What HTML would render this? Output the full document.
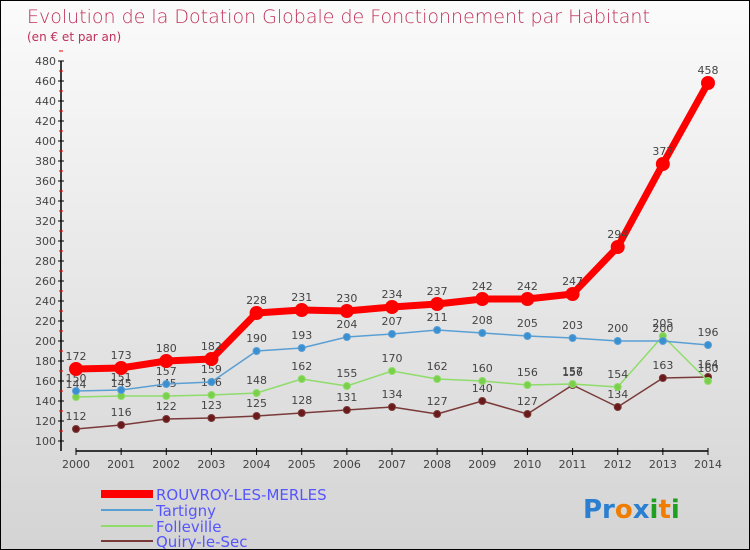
<!DOCTYPE html>
<html><head><meta charset="utf-8"><style>
body{margin:0}
#c{width:750px;height:550px;position:relative;box-sizing:border-box;border:1px solid #000;background:linear-gradient(#fbfbfb,#d4d4d4);font-family:"DejaVu Sans","Liberation Sans",sans-serif;overflow:hidden}
</style></head><body>
<div id="c">
<svg id="s" width="750" height="550" style="position:absolute;left:0;top:0">
<text x="26" y="22" font-size="19" fill="#c0305a" font-family="DejaVu Sans,sans-serif" font-weight="200">Evolution de la Dotation Globale de Fonctionnement par Habitant</text>
<text x="26" y="40" font-size="12" fill="#c0305a">(en € et par an)</text>
<g id="axes"></g><g id="series"></g>
<g>
<line x1="100" y1="493" x2="152" y2="493" stroke="#f00" stroke-width="8"/>
<text x="155" y="499" font-size="15" fill="#5555ff">ROUVROY-LES-MERLES</text>
<line x1="100" y1="509" x2="152" y2="509" stroke="#5a9fd4" stroke-width="2"/>
<text x="155" y="515" font-size="15" fill="#5555ff">Tartigny</text>
<line x1="100" y1="525" x2="152" y2="525" stroke="#8fdc6a" stroke-width="2"/>
<text x="155" y="531" font-size="15" fill="#5555ff">Folleville</text>
<line x1="100" y1="540" x2="152" y2="540" stroke="#7a3a3a" stroke-width="2"/>
<text x="155" y="546" font-size="15" fill="#5555ff">Quiry-le-Sec</text>
</g>
<text x="582" y="517" font-size="26" font-weight="bold"><tspan fill="#2a7fd0">Pr</tspan><tspan fill="#f07d00">o</tspan><tspan fill="#2a7fd0">x</tspan><tspan fill="#20a020">i</tspan><tspan fill="#f07d00">t</tspan><tspan fill="#20a020">i</tspan></text>
</svg>
</div>
<script>
const years=[2000,2001,2002,2003,2004,2005,2006,2007,2008,2009,2010,2011,2012,2013,2014];
const rouvroy=[172,173,180,182,228,231,230,234,237,242,242,247,294,377,458];
const tartigny=[150,151,157,159,190,193,204,207,211,208,205,203,200,200,196];
const folleville=[144,145,145,146,148,162,155,170,162,160,156,157,154,205,160];
const quiry=[112,116,122,123,125,128,131,134,127,140,127,156,134,163,164];
const yTicks=[100,120,140,160,180,200,220,240,260,280,300,320,340,360,380,400,420,440,460,480];
const NS="http://www.w3.org/2000/svg";
const X=i=>75+i*(707-75)/14, Y=v=>440-(v-100)*(380/380);
function mk(t,a,p){const e=document.createElementNS(NS,t);for(const k in a)e.setAttribute(k,a[k]);p.appendChild(e);return e;}
const ax=document.getElementById('axes');
let l=mk('line',{x1:60,y1:60,x2:60,y2:450,stroke:'#000','stroke-width':1.5},ax);

l=mk('line',{x1:75,y1:450,x2:707,y2:450,stroke:'#000','stroke-width':1.5},ax);

yTicks.forEach(v=>{mk('line',{x1:57,y1:Y(v),x2:63,y2:Y(v),stroke:'#000'},ax);
 mk('line',{x1:58,y1:Y(v)-10,x2:62,y2:Y(v)-10,stroke:'#f00'},ax);
 const t=mk('text',{x:55,y:Y(v)+4,'font-size':11,fill:'#444','text-anchor':'end'},ax);t.textContent=v;
 });
years.forEach((y,i)=>{mk('line',{x1:X(i),y1:447,x2:X(i),y2:454,stroke:'#000'},ax);
 const t=mk('text',{x:X(i),y:467,'font-size':11,fill:'#444','text-anchor':'middle'},ax);t.textContent=y;
 });
const sg=document.getElementById('series');
function draw(d,col,w,r,name,dot){const g=mk('g',{},sg);
 mk('polyline',{points:d.map((v,i)=>X(i)+','+Y(v)).join(' '),fill:'none',stroke:col,'stroke-width':w,'stroke-linejoin':'round'},g);
 d.forEach((v,i)=>{const c=mk('circle',{cx:X(i),cy:Y(v),r:r,fill:dot,stroke:col,'stroke-width':1},g);
  
  const t=mk('text',{x:X(i),y:Y(v)-9,'font-size':11,fill:'#444','text-anchor':'middle'},g);t.textContent=v;});}
draw(quiry,'#7a3a3a',1.5,3.5,'series-quiry','#6a1a1a');
draw(folleville,'#8fdc6a',1.5,3.5,'series-folleville','#7ad04a');
draw(tartigny,'#5a9fd4',1.5,3.5,'series-tartigny','#3a8fd0');
draw(rouvroy,'#f00',7,6.5,'series-rouvroy','#f00');
</script>
</body></html>
